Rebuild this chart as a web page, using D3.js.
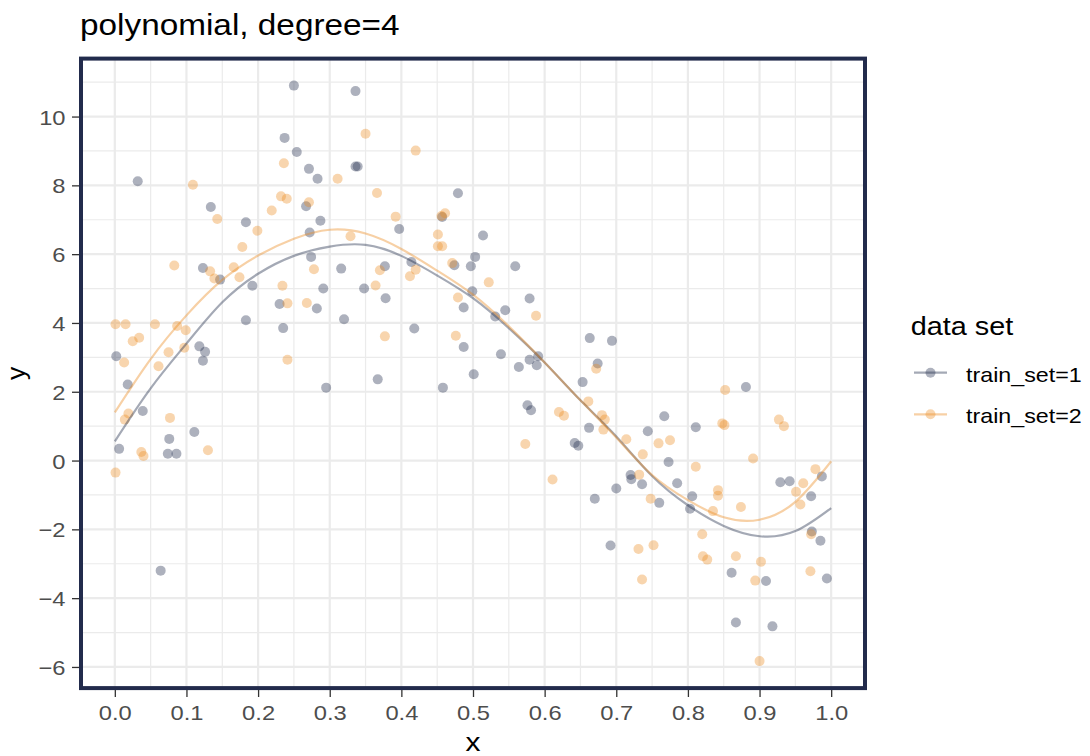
<!DOCTYPE html>
<html>
<head>
<meta charset="utf-8">
<script src="https://cdn.jsdelivr.net/npm/d3@7"></script>
<style>
  html, body { margin: 0; padding: 0; background: #ffffff; }
  svg { display: block; }
  text { font-family: "Liberation Sans", Arial, Helvetica, sans-serif; }
</style>
</head>
<body>
<svg id="chart" width="1090" height="756"></svg>
<script>
// ---- data -------------------------------------------------------------
const seriesNames = ["train_set=1", "train_set=2"];

const set1X = [0.032,0.134,0.183,0.123,0.147,0.192,0.183,0.118,0.126,0.123,0.002,0.018,0.039,0.006,0.076,0.074,0.086,0.111,0.064,
  0.250,0.336,0.237,0.254,0.271,0.283,0.336,0.339,0.267,0.287,0.272,0.479,0.457,0.397,0.274,0.316,0.291,0.348,0.377,0.414,0.378,0.474,0.230,0.282,0.235,0.320,0.418,0.487,0.487,0.367,0.295,0.458,
  0.514,0.503,0.497,0.559,0.499,0.579,0.545,0.531,0.539,0.501,0.564,0.579,0.591,0.589,0.663,0.694,0.674,0.653,0.576,0.581,0.662,0.642,0.647,0.744,0.720,0.721,0.736,0.700,0.670,0.692,
  0.881,0.767,0.811,0.773,0.785,0.760,0.806,0.803,0.929,0.942,0.987,0.972,0.973,0.985,0.861,0.909,0.994,0.867,0.918];
const set1Y = [8.12,7.37,6.93,5.60,5.26,5.08,4.08,3.32,3.16,2.90,3.03,2.21,1.44,0.34,0.63,0.20,0.20,0.83,-3.20,
  10.90,10.74,9.38,8.97,8.48,8.19,8.55,8.55,7.39,6.97,6.63,7.77,7.08,6.73,5.92,5.58,5.00,5.00,5.65,5.77,4.72,5.68,4.55,4.42,3.85,4.11,3.84,4.45,3.30,2.36,2.12,2.12,
  6.54,5.92,5.65,5.65,4.92,4.71,4.37,4.19,3.09,2.51,2.72,2.93,3.03,2.77,3.56,3.48,2.82,2.28,1.61,1.46,0.95,0.51,0.43,0.85,-0.42,-0.54,-0.69,-0.81,-1.11,-2.47,
  2.14,1.29,0.97,-0.04,-0.66,-1.23,-1.04,-1.40,-0.63,-0.60,-0.46,-1.04,-2.06,-2.33,-3.26,-3.50,-3.43,-4.71,-4.82];

const set2X = [0.109,0.143,0.219,0.199,0.178,0.083,0.166,0.133,0.139,0.174,0.001,0.015,0.056,0.025,0.034,0.087,0.099,0.097,0.075,0.013,0.061,0.019,0.014,0.077,0.037,0.040,0.130,0.001,
  0.350,0.420,0.236,0.311,0.232,0.240,0.271,0.366,0.392,0.456,0.461,0.329,0.451,0.451,0.457,0.471,0.278,0.370,0.420,0.412,0.364,0.234,0.241,0.268,0.479,0.377,0.476,0.241,
  0.522,0.588,0.672,0.661,0.620,0.627,0.680,0.684,0.682,0.573,0.714,0.737,0.732,0.748,0.611,0.731,0.752,0.736,
  0.852,0.848,0.851,0.927,0.934,0.759,0.775,0.811,0.891,0.842,0.842,0.835,0.874,0.978,0.961,0.951,0.957,0.972,0.820,0.821,0.827,0.867,0.902,0.894,0.971,0.900];
const set2Y = [8.02,7.02,7.27,6.68,6.21,5.67,5.62,5.50,5.29,5.33,3.96,3.96,3.96,3.47,3.57,3.91,3.79,3.28,3.15,2.85,2.74,1.37,1.19,1.24,0.25,0.13,0.30,-0.35,
  9.50,9.01,8.64,8.19,7.68,7.61,7.51,7.78,7.09,7.11,7.19,6.52,6.57,6.23,6.23,5.74,5.56,5.53,5.55,5.36,5.09,5.08,4.57,4.58,4.74,3.61,3.63,2.93,
  5.18,4.21,2.67,1.72,1.41,1.30,1.32,1.19,0.90,0.48,0.62,0.18,-0.41,-1.11,-0.55,-2.57,-2.46,-3.46,
  2.05,1.08,1.03,1.19,1.00,0.50,0.59,-0.18,0.06,-0.86,-1.02,-1.47,-1.35,-0.25,-0.66,-0.91,-1.28,-2.14,-2.14,-2.78,-2.88,-2.78,-2.94,-3.49,-3.22,-5.83];

// fitted degree-4 curves, sampled along x
const fitX  = [0,0.05,0.1,0.15,0.2,0.25,0.3,0.35,0.4,0.45,0.5,0.55,0.6,0.65,0.7,0.75,0.8,0.85,0.9,0.95,1.0];
const fit1Y = [0.56,2.10,3.40,4.60,5.43,5.95,6.22,6.27,5.95,5.38,4.72,3.85,2.85,1.75,0.70,-0.45,-1.30,-1.90,-2.20,-2.05,-1.38];
const fit2Y = [1.40,2.95,4.22,5.25,5.96,6.45,6.71,6.60,6.15,5.52,4.82,3.90,2.85,1.75,0.67,-0.42,-1.15,-1.65,-1.72,-1.20,-0.02];

const xTickValues = [0,0.1,0.2,0.3,0.4,0.5,0.6,0.7,0.8,0.9,1.0];
const yTickValues = [-6,-4,-2,0,2,4,6,8,10];
const xMinorValues = [0.05,0.15,0.25,0.35,0.45,0.55,0.65,0.75,0.85,0.95];
const yMinorValues = [-5,-3,-1,1,3,5,7,9,11];

// ---- layout / style ---------------------------------------------------
const panel = { left: 79, right: 867, top: 56.7, bottom: 690 };
const colors = ["#1C2747", "#EC8A1E"];
const pointAlpha = 0.36;
const lineAlpha = 0.4;
const frameColor = "#222B4C";
const sx = 1.13; // horizontal text stretch

const svg = d3.select("#chart");

const x = d3.scaleLinear().domain([-0.05, 1.05]).range([panel.left, panel.right]);
const y = d3.scaleLinear().domain([-6.67, 11.74]).range([panel.bottom, panel.top]);

function stretchedText(parent, px, py, str, opts) {
  const g = parent.append("g").attr("transform", `translate(${px},${py})`);
  return g.append("text")
    .attr("transform", `scale(${opts.sx || sx},1)`)
    .attr("text-anchor", opts.anchor || "start")
    .attr("font-size", opts.size)
    .attr("fill", opts.fill || "#000")
    .text(str);
}

// clip for everything inside the panel
svg.append("defs").append("clipPath").attr("id", "panel-clip")
  .append("rect")
  .attr("x", panel.left).attr("y", panel.top)
  .attr("width", panel.right - panel.left).attr("height", panel.bottom - panel.top);

const plot = svg.append("g").attr("clip-path", "url(#panel-clip)");

// grid
const grid = plot.append("g");
grid.selectAll("line.xminor").data(xMinorValues).join("line")
  .attr("x1", d => x(d)).attr("x2", d => x(d))
  .attr("y1", panel.top).attr("y2", panel.bottom)
  .attr("stroke", "#EBEBEB").attr("stroke-width", 1.2);
grid.selectAll("line.yminor").data(yMinorValues).join("line")
  .attr("x1", panel.left).attr("x2", panel.right)
  .attr("y1", d => y(d)).attr("y2", d => y(d))
  .attr("stroke", "#EBEBEB").attr("stroke-width", 1.2);
grid.selectAll("line.xmajor").data(xTickValues).join("line")
  .attr("x1", d => x(d)).attr("x2", d => x(d))
  .attr("y1", panel.top).attr("y2", panel.bottom)
  .attr("stroke", "#EBEBEB").attr("stroke-width", 2.2);
grid.selectAll("line.ymajor").data(yTickValues).join("line")
  .attr("x1", panel.left).attr("x2", panel.right)
  .attr("y1", d => y(d)).attr("y2", d => y(d))
  .attr("stroke", "#EBEBEB").attr("stroke-width", 2.2);

// points
const pointSets = [
  d3.zip(set1X, set1Y),
  d3.zip(set2X, set2Y)
];
pointSets.forEach((pts, i) => {
  plot.append("g").selectAll("circle").data(pts).join("circle")
    .attr("cx", d => x(d[0]))
    .attr("cy", d => y(d[1]))
    .attr("r", 5)
    .attr("fill", colors[i])
    .attr("fill-opacity", pointAlpha);
});

// fitted curves
const line = d3.line().x(d => x(d[0])).y(d => y(d[1])).curve(d3.curveNatural);
[fit1Y, fit2Y].forEach((fy, i) => {
  plot.append("path")
    .datum(d3.zip(fitX, fy))
    .attr("d", line)
    .attr("fill", "none")
    .attr("stroke", colors[i])
    .attr("stroke-opacity", lineAlpha)
    .attr("stroke-width", 2.2);
});

// panel frame
svg.append("rect")
  .attr("x", panel.left + 2).attr("y", panel.top + 1.9)
  .attr("width", panel.right - panel.left - 4).attr("height", panel.bottom - panel.top - 3.8)
  .attr("fill", "none").attr("stroke", frameColor).attr("stroke-width", 4);

// axes
const xAxis = svg.append("g")
  .attr("transform", `translate(0,${panel.bottom})`)
  .call(d3.axisBottom(x).tickValues(xTickValues).tickFormat(d3.format(".1f")).tickSize(7));
xAxis.select(".domain").remove();
xAxis.selectAll(".tick line").attr("stroke", "#333333").attr("stroke-width", 1.3);
xAxis.selectAll(".tick text")
  .attr("y", 30).attr("dy", null)
  .attr("transform", `scale(${sx},1)`)
  .attr("font-size", 21).attr("font-family", null)
  .attr("fill", "#4D4D4D");

const yAxis = svg.append("g")
  .attr("transform", `translate(${panel.left},0)`)
  .call(d3.axisLeft(y).tickValues(yTickValues).tickFormat(d => d3.format("d")(d).replace("-", "\u2212")).tickSize(7));
yAxis.select(".domain").remove();
yAxis.selectAll(".tick line").attr("stroke", "#333333").attr("stroke-width", 1.3);
yAxis.selectAll(".tick text")
  .attr("x", -13.5 / sx).attr("dy", "0.36em")
  .attr("transform", `scale(${sx},1)`)
  .attr("font-size", 21).attr("font-family", null)
  .attr("fill", "#4D4D4D");

// axis titles
stretchedText(svg, (panel.left + panel.right) / 2, 751, "x", { size: 26.5, anchor: "middle" });
svg.append("text")
  .attr("transform", `translate(25,${(panel.top + panel.bottom) / 2}) rotate(-90)`)
  .attr("text-anchor", "middle")
  .attr("font-size", 26.5)
  .text("y");

// title
stretchedText(svg, 80, 35, "polynomial, degree=4", { size: 29.5 });

// legend
const legend = svg.append("g");
stretchedText(legend, 910.7, 335, "data set", { size: 25.5 });
const keyY = [372.7, 414.3];
seriesNames.forEach((name, i) => {
  legend.append("line")
    .attr("x1", 914).attr("x2", 947)
    .attr("y1", keyY[i]).attr("y2", keyY[i])
    .attr("stroke", colors[i]).attr("stroke-opacity", lineAlpha).attr("stroke-width", 2.2);
  legend.append("circle")
    .attr("cx", 930.5).attr("cy", keyY[i]).attr("r", 5)
    .attr("fill", colors[i]).attr("fill-opacity", pointAlpha);
  stretchedText(legend, 966, keyY[i] + 9, name, { size: 20.6 });
});
</script>
</body>
</html>
